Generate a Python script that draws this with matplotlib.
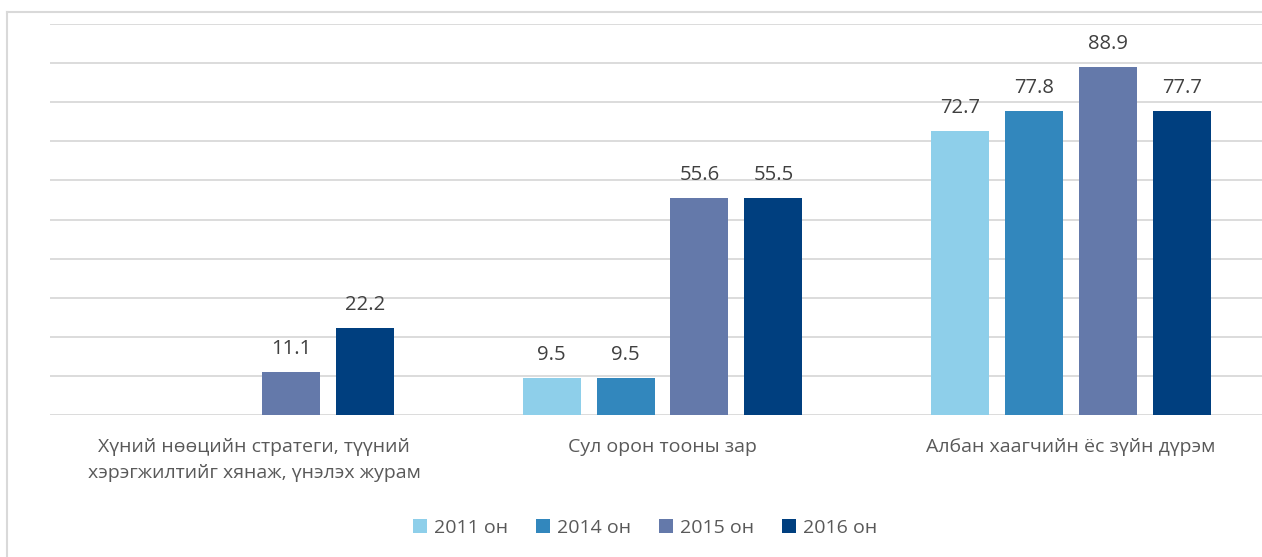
import numpy as np
import matplotlib
matplotlib.use("Agg")
import matplotlib.pyplot as plt
from matplotlib.lines import Line2D
from matplotlib.patches import Patch

plt.rcParams['font.family'] = ['Open Sans', 'Noto Sans', 'DejaVu Sans']

categories = [
    "Хүний нөөцийн стратеги, түүний\nхэрэгжилтийг хянаж, үнэлэх журам",
    "Сул орон тооны зар",
    "Албан хаагчийн ёс зүйн дүрэм",
]
series_names = ["2011 он", "2014 он", "2015 он", "2016 он"]
values_2011 = [np.nan, 9.5, 72.7]
values_2014 = [np.nan, 9.5, 77.8]
values_2015 = [11.1, 55.6, 88.9]
values_2016 = [22.2, 55.5, 77.7]
series_values = [values_2011, values_2014, values_2015, values_2016]
colors = ["#8ECFEA", "#3287BD", "#6479AA", "#003F7F"]

W, H = 1262, 557
fig = plt.figure(figsize=(W / 100, H / 100), dpi=100)

# plot area runs past the right edge of the canvas
left_px, right_px = 50, 1275
bottom_px, top_px = 415, 24
ax = fig.add_axes([left_px / W, (H - bottom_px) / H,
                   (right_px - left_px) / W, (bottom_px - top_px) / H])

x = np.arange(len(categories))
bar_w = 0.142
pitch = 0.181
offsets = (np.arange(4) - 1.5) * pitch

for i, (vals, col) in enumerate(zip(series_values, colors)):
    pos = x + offsets[i]
    ax.bar(pos, vals, width=bar_w, color=col, zorder=3)
    for px, v in zip(pos, vals):
        if np.isnan(v):
            continue
        ax.annotate(f"{v:.1f}", xy=(px, v), xytext=(0, 13),
                    textcoords="offset points", ha="center", va="baseline",
                    fontsize=14.6, color="#404040")

ax.set_xlim(-0.5, 2.5)
ax.set_ylim(0, 100)
ax.set_yticks(np.arange(0, 101, 10))
ax.yaxis.grid(True, color="#D9D9D9", linewidth=1.3, zorder=0)
ax.tick_params(axis="y", left=False, labelleft=False)
ax.tick_params(axis="x", bottom=False, pad=13)
ax.set_xticks(x)
ax.set_xticklabels(categories, fontsize=14, color="#595959", linespacing=1.55,
                   va="top")
for s in ax.spines.values():
    s.set_visible(False)

# chart frame (left and top edges visible)
fig.add_artist(Line2D([7 / W, 7 / W], [0, 1 - 12 / H], transform=fig.transFigure,
                      color="#D9D9D9", linewidth=1.5))
fig.add_artist(Line2D([7 / W, 1], [1 - 12 / H, 1 - 12 / H], transform=fig.transFigure,
                      color="#D9D9D9", linewidth=1.5))

handles = [Patch(facecolor=c, edgecolor="none") for c in colors]
fig.legend(handles, series_names, loc="center", bbox_to_anchor=(645 / W, 1 - 528 / H),
           ncol=4, frameon=False, fontsize=14, labelcolor="#595959",
           handlelength=0.72, handleheight=0.72, handletextpad=0.35,
           columnspacing=1.45)

fig.savefig("out.png", dpi=100)
